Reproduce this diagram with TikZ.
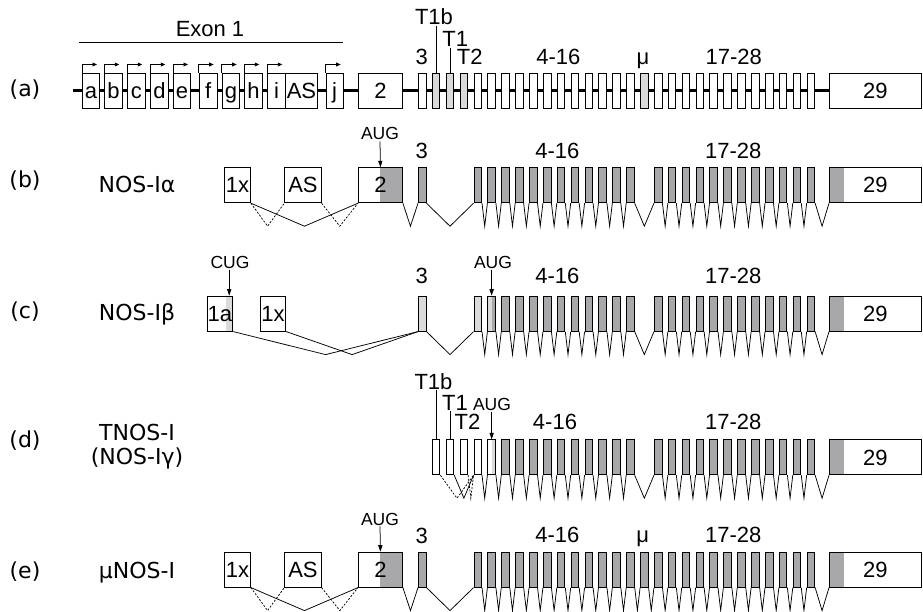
\documentclass[tikz,border=0pt]{standalone}
\usepackage{fontspec}
\setmainfont{Liberation Sans}
\newfontfamily\rowfont{DejaVu Sans}
\usetikzlibrary{arrows.meta,calc}
\definecolor{exdark}{RGB}{168,168,171}
\definecolor{exlight}{RGB}{218,218,218}
\newcommand\lblfont{\fontsize{22}{23}\selectfont}
\newcommand\smfont{\fontsize{17.5}{18}\selectfont}
\newcommand\rowsize{\fontsize{22}{26}\selectfont}
\newcommand\px[1]{418+13.88*#1}
\newcommand\intr[3][intron]{\draw[#1] (#2.south east) -- ($(#2.south east)!0.5!(#3.south west)+(0,23)$) -- (#3.south west);}
\begin{document}
\begin{tikzpicture}[x=1pt,y=-1pt,
  exon/.style={draw=black, line width=0.9pt, fill=white, inner sep=0pt, minimum height=35pt,
    anchor=north west, font=\lblfont, text height=15.5pt, text depth=0pt},
  sx/.style={exon, minimum width=7.6pt},
  wt/.style={sx},
  dk/.style={sx, fill=exdark},
  lt/.style={sx, fill=exlight},
  splitR/.style={path picture={\fill[exdark] (path picture bounding box.north) rectangle (path picture bounding box.south east);}},
  halfLD/.style={path picture={\fill[exlight] (path picture bounding box.north west) rectangle (path picture bounding box.south);
     \fill[exdark] (path picture bounding box.north) rectangle (path picture bounding box.south east);}},
  halfWL/.style={path picture={\fill[exlight] (path picture bounding box.north) rectangle (path picture bounding box.south east);}},
  grayL/.style={path picture={\fill[exdark] (path picture bounding box.north west) rectangle ([xshift=15pt]path picture bounding box.south west);}},
  stripR/.style={path picture={\fill[exlight] ([xshift=-6.3pt]path picture bounding box.north east) rectangle (path picture bounding box.south east);}},
  lbl/.style={font=\lblfont, inner sep=1pt, anchor=base},
  smlbl/.style={font=\smfont, inner sep=1pt, anchor=base},
  rowlbl/.style={font=\rowfont\rowsize, inner sep=0pt, align=center},
  intron/.style={line width=0.75pt},
  dintron/.style={intron, dash pattern=on 2pt off 1.6pt},
  arr/.style={line width=0.75pt, -{Triangle[length=6.5pt,width=4.2pt]}},
  prom/.style={line width=0.75pt, -{Triangle[length=4.5pt,width=3.8pt]}},
  backbone/.style={line width=3.5pt},
]
\useasboundingbox (0,0) rectangle (923,612);

% ---------------- row (a)
\node[rowlbl] (a-tag) at (25,90) {(a)};
\coordinate (a-start) at (72.7,90.5);
\coordinate (a-end) at (829,90.5);
\draw[backbone] (a-start) -- (a-end);
\coordinate (e1L) at (79.3,42.7);
\coordinate (e1R) at (342.7,42.7);
\draw[intron] (e1L) -- (e1R);
\node[lbl] (a-exon1) at (210,36.7) {Exon 1};
\foreach \n/\x/\w in {a/82/17.3, b/104.3/17.7, c/127.3/17.4, d/150.3/17.4, e/173/17.3,
   f/198.7/18, g/221.7/17.6, h/244.3/17.7, i/267.3/17.4, j/325.7/17}{
  \node[exon, minimum width=\w pt] (a-\n) at (\x,73) {\n};
  \draw[prom] (a-\n.north west) -- ++(0,-8.5) -- ++(15,0);
}
\node[exon, minimum width=32.6pt] (a-AS) at (284.7,73) {AS};
\node[exon, minimum width=44pt] (a-2) at (358,73) {2};
\foreach \k in {0,4,5,...,15,17,18,...,28}{\node[wt] (a-p\k) at ({\px{\k}},73) {};}
\foreach \k in {1,2,3,16}{\node[lt] (a-p\k) at ({\px{\k}},73) {};}
\node[exon, minimum width=92pt] (a-29) at (829,73) {29};
\node[lbl] (a-l3) at (421.7,65) {3};
\node[lbl] (a-lT2) at (469.7,65) {T2};
\node[lbl] (a-l416) at (558.3,65) {4-16};
\node[lbl] (a-lmu) at (643,65) {μ};
\node[lbl] (a-l1728) at (733.7,65) {17-28};
\node[lbl] (a-lT1) at (455.3,46.7) {T1};
\node[lbl] (a-lT1b) at (434,25) {T1b};
\draw[intron] (a-p1.north) -- (a-p1.north |- a-lT1b.south);
\draw[intron] (a-p2.north) -- (a-p2.north |- a-lT1.south);

% ---------------- row (b)
\node[rowlbl] (b-tag) at (25,181) {(b)};
\node[rowlbl] (b-name) at (137,184) {NOS-Iα};
\node[exon, minimum width=26pt] (b-1x) at (224,167.3) {1x};
\node[exon, minimum width=36.4pt] (b-AS) at (284.3,167.3) {AS};
\node[exon, minimum width=44pt, splitR] (b-2) at (358,167.3) {2};
\foreach \k in {0,4,5,...,15,17,18,...,28}{\node[dk] (b-p\k) at ({\px{\k}},167.3) {};}
\node[exon, minimum width=92pt, grayL] (b-29) at (829,167.3) {29};
\intr{b-1x}{b-2}
\intr[dintron]{b-1x}{b-AS}
\intr[dintron]{b-AS}{b-2}
\intr{b-2}{b-p0}
\intr{b-p0}{b-p4}
\foreach \k in {4,...,14}{\pgfmathtruncatemacro\nn{\k+1}\intr{b-p\k}{b-p\nn}}
\intr{b-p15}{b-p17}
\foreach \k in {17,...,27}{\pgfmathtruncatemacro\nn{\k+1}\intr{b-p\k}{b-p\nn}}
\intr{b-p28}{b-29}
\node[smlbl] (b-aug) at (380,140) {AUG};
\draw[arr] (b-aug.south) -- (b-2.north);
\node[lbl] (b-l3) at (421.7,158.3) {3};
\node[lbl] (b-l416) at (557.3,158.3) {4-16};
\node[lbl] (b-l1728) at (733.3,158.3) {17-28};

% ---------------- row (c)
\node[rowlbl] (c-tag) at (25,312) {(c)};
\node[rowlbl] (c-name) at (137,314) {NOS-Iβ};
\node[exon, minimum width=25.6pt, stripR] (c-1a) at (206.7,295.7) {1a};
\node[exon, minimum width=25.3pt] (c-1x) at (260,295.7) {1x};
\node[lt] (c-p0) at ({\px{0}},295.7) {};
\node[lt] (c-p4) at ({\px{4}},295.7) {};
\node[sx, halfLD] (c-p5) at ({\px{5}},295.7) {};
\foreach \k in {6,...,15,17,18,...,28}{\node[dk] (c-p\k) at ({\px{\k}},295.7) {};}
\node[exon, minimum width=92pt, grayL] (c-29) at (829,295.7) {29};
\intr{c-1a}{c-p0}
\intr{c-1x}{c-p0}
\intr{c-p0}{c-p4}
\foreach \k in {4,...,14}{\pgfmathtruncatemacro\nn{\k+1}\intr{c-p\k}{c-p\nn}}
\intr{c-p15}{c-p17}
\foreach \k in {17,...,27}{\pgfmathtruncatemacro\nn{\k+1}\intr{c-p\k}{c-p\nn}}
\intr{c-p28}{c-29}
\node[smlbl] (c-cug) at (230,268.3) {CUG};
\coordinate (c-cugpt) at ($(c-1a.north east)+(-4,0)$);
\draw[arr] (c-cugpt |- c-cug.south) -- (c-cugpt);
\node[smlbl] (c-aug) at (493,268.3) {AUG};
\draw[arr] (c-p5.north |- c-aug.south) -- (c-p5.north);
\node[lbl] (c-l3) at (421.7,283.3) {3};
\node[lbl] (c-l416) at (557.3,283.3) {4-16};
\node[lbl] (c-l1728) at (733.3,283.3) {17-28};

% ---------------- row (d)
\node[rowlbl] (d-tag) at (25,441) {(d)};
\node[rowlbl] (d-name1) at (137,432) {TNOS-Ⅰ};
\node[rowlbl] (d-name2) at (137,458) {(NOS-Ⅰγ)};
\foreach \k in {1,2,3,4}{\node[wt] (d-p\k) at ({\px{\k}},439.3) {};}
\node[sx, halfWL] (d-p5) at ({\px{5}},439.3) {};
\foreach \k in {6,...,15,17,18,...,28}{\node[dk] (d-p\k) at ({\px{\k}},439.3) {};}
\node[exon, minimum width=92pt, grayL] (d-29) at (829,439.3) {29};
\intr[dintron]{d-p1}{d-p4}
\intr{d-p2}{d-p4}
\intr[dintron]{d-p3}{d-p4}
\foreach \k in {4,...,14}{\pgfmathtruncatemacro\nn{\k+1}\intr{d-p\k}{d-p\nn}}
\intr{d-p15}{d-p17}
\foreach \k in {17,...,27}{\pgfmathtruncatemacro\nn{\k+1}\intr{d-p\k}{d-p\nn}}
\intr{d-p28}{d-29}
\node[lbl] (d-lT1b) at (433.5,389) {T1b};
\node[lbl] (d-lT1) at (455,410) {T1};
\node[lbl] (d-lT2) at (467.5,429.3) {T2};
\node[smlbl] (d-aug) at (492,410.7) {AUG};
\node[lbl] (d-l416) at (555,429.3) {4-16};
\node[lbl] (d-l1728) at (733.3,429.3) {17-28};
\draw[intron] (d-p1.north) -- (d-p1.north |- d-lT1b.south);
\draw[intron] (d-p2.north) -- (d-p2.north |- d-lT1.south);
\draw[arr] (d-p5.north |- d-aug.south) -- (d-p5.north);

% ---------------- row (e)
\node[rowlbl] (e-tag) at (25,572) {(e)};
\node[rowlbl] (e-name) at (137,573) {μNOS-I};
\node[exon, minimum width=26pt] (e-1x) at (224,551.7) {1x};
\node[exon, minimum width=36.4pt] (e-AS) at (284.3,551.7) {AS};
\node[exon, minimum width=44pt, splitR] (e-2) at (358,551.7) {2};
\foreach \k in {0,4,5,...,28}{\node[dk] (e-p\k) at ({\px{\k}},551.7) {};}
\node[exon, minimum width=92pt, grayL] (e-29) at (829,551.7) {29};
\intr{e-1x}{e-2}
\intr[dintron]{e-1x}{e-AS}
\intr[dintron]{e-AS}{e-2}
\intr{e-2}{e-p0}
\intr{e-p0}{e-p4}
\foreach \k in {4,...,27}{\pgfmathtruncatemacro\nn{\k+1}\intr{e-p\k}{e-p\nn}}
\intr{e-p28}{e-29}
\node[smlbl] (e-aug) at (380,525) {AUG};
\draw[arr] (e-aug.south) -- (e-2.north);
\node[lbl] (e-l3) at (421.7,543.3) {3};
\node[lbl] (e-l416) at (557.3,542.7) {4-16};
\node[lbl] (e-lmu) at (642.7,542.7) {μ};
\node[lbl] (e-l1728) at (733.3,542.7) {17-28};
\end{tikzpicture}
\end{document}
